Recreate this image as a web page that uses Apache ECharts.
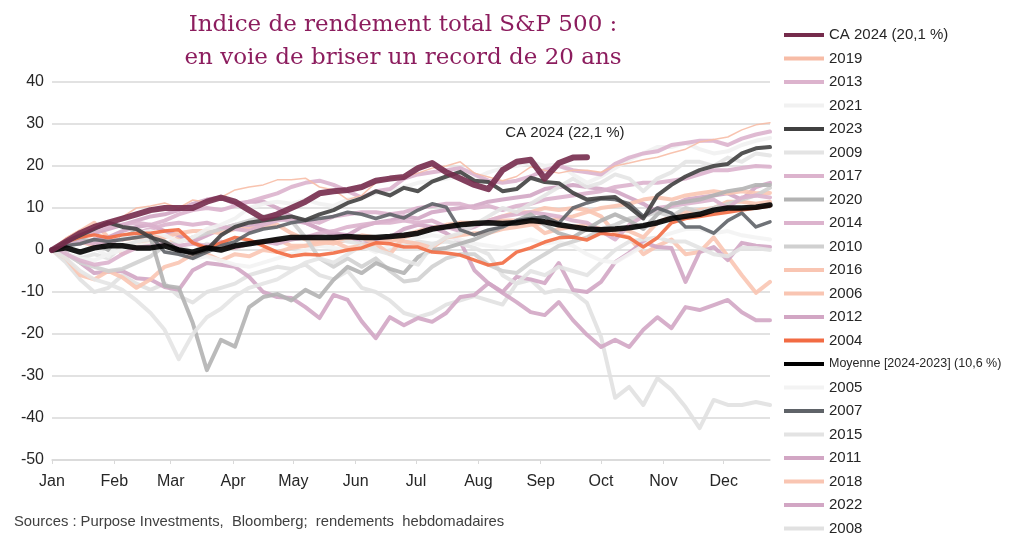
<!DOCTYPE html>
<html><head><meta charset="utf-8">
<script src="https://cdn.jsdelivr.net/npm/echarts@6/dist/echarts.min.js"></script>
<style>html,body{margin:0;padding:0;background:#fff}#c{width:1024px;height:542px}</style>
</head><body><div id="c"></div>
<script>
// ---- tick labels ----
const monthLabels = ['Jan','Feb','Mar','Apr','May','Jun','Jul','Aug','Sep','Oct','Nov','Dec'];
const monthWeeks = [0, 4.43, 8.43, 12.86, 17.14, 21.57, 25.86, 30.29, 34.71, 39, 43.43, 47.71];
const yTicks = [-50, -40, -30, -20, -10, 0, 10, 20, 30, 40];

// ---- weekly cumulative total returns (%) ----
const ca2024 = [0,2,4,5.5,6.5,7.5,8.5,9.5,10,10,10,11.5,12.5,11.5,9.5,7.5,8.5,10,11.5,13.5,14,14.3,15,16.5,17,17.4,19.5,20.7,18.5,17,15.5,14.5,19,21,21.5,17,20.7,22,22.1];
const y2019 = [0,2.9,4.8,6,6.7,7.9,10,10.5,11.2,10,11.9,11.4,12.5,14.3,15,15.5,16.7,16.7,17.1,15,14.3,12,13,16,17,17.5,18.3,19.5,20,21,18.3,17.4,16.5,17.5,19.8,19,18.3,19,19,18.5,20,20.7,21.5,22.1,23.1,24,25.7,26.3,26.9,28.6,29.8,30.3];
const y2013 = [0,2,3.5,4.5,5.5,6,6.5,6,7,8.5,9.5,10,9.5,10.5,11.5,12.5,13.5,15,16,16.5,15.5,14,12.5,14,14.5,17,18,18.5,19,19.5,18,16.5,16,16.5,17.5,19,20,19,18.5,18,20.5,22,23,23.5,25,25.5,26,26,25,26.5,27.5,28.2];
const y2021 = [0,1,-1,0.5,-1.5,3,4,4.5,3.5,2,3,5,6,7.5,10,11,11.5,11,12,11,10.5,12,12.5,13.5,14,15,16,16.5,17,17.5,17,18.5,19.5,20,21,20,20.5,18,16,17.5,19.5,21.5,23,24.5,24.5,25.5,24,23,23.5,25,26,26.7];
const y2023 = [0,2,3.5,5,6.5,5.5,5,3,2,0,-1,0,3.5,5.5,6.5,7,7.5,8,7.1,8.5,9.5,11.2,12.3,14,13,14.8,14,16.3,17.5,18.6,16.5,16.2,14,14.5,17.2,16.2,15.9,13.6,12,12.4,12.6,10.2,7.5,13,15.5,17.5,19,20,20.5,23,24.2,24.5];
const y2009 = [0,-2,-5,-7,-8,-9.5,-12,-15,-19,-26,-20,-16,-14,-11,-9,-8,-7,-5,-3,-2,-3,-1,1,0,-1,-2.5,-3.5,1,3,4,6,8,10,9,11,13,15,17,15,16,18,17,14,17,18.5,21,21,20,22,21,23,22.5];
const y2017 = [0,1,2,1.5,2,2.5,4,5,6,6.5,6,6.5,5.5,5,4.5,6,7,7.5,7,6.5,8,8.5,9,9,8.5,9,10,10.5,11,11,10,10.5,9.5,10.5,11,12,12.5,13,13.5,14,15,15.5,16,16,16.5,17,18,19,19,19.5,20,19.8];
const y2020 = [0,1.5,2.5,2,0,3,4.5,3,-8.5,-9,-17.4,-28.6,-21.4,-23,-13.6,-11.2,-10.5,-12,-9.5,-11.2,-7.1,-4,-5.5,-3.1,-4.5,-5.5,-1.7,0,0.5,1.5,2.5,4,5.5,7,8.5,6,4,3,5,7,8.5,7,5,8.5,11,11.5,12,13,14,14.5,15.5,15.5];
const y2014 = [0,-1,-2.5,-3.5,-3,-1,0.5,1,1.5,1,1.5,1,2,0.5,1.5,2,1.5,2.5,3,4,4.5,5.5,6,6.5,6.5,7,6.5,7,5.5,4.5,5.5,7,8,8.5,9,8.5,8,7,6.5,4.5,2.5,6,8,10,10.5,11,11.5,12,10,12.5,13,12.5];
const y2010 = [0,-1,-3,-4,-5,-4.5,-3,-1.5,1,2,3,4,5,6,7,8,8.5,7,3,-2,-4,-2,-4,-2,-5,-7.5,-7,-4,-2,-1,-1,-3.5,-5,-5.5,-3,-1,1,2,3,5,6,7.5,8,9,8,10,9,10,11,12,13,14.8];
const y2016 = [0,-2,-6,-7,-5,-6.5,-9,-7,-4,-3,-1,0,1,0.5,1.5,2,2.5,1,1,1.5,2,3,3,1.5,-1,3,4,5,6,6.5,6.5,7,7,7,6.5,4,5,5.5,6,5,5,4.5,3,6.5,8,9,9.5,10,11.5,11.5,11,11.5];
const y2006 = [0,1.5,2,1,2.5,2.5,3,3.5,3,4,4.5,4.5,4,5,5,5.5,6,4,2.5,2,2,0.5,1,1.5,2.5,2,1.5,0.5,3,3.5,4,4,5,5.5,6,6.5,7.5,8,9,10,10.5,11,12,12.5,12,13,13.5,14,13.5,14,13.5,13.6];
const y2012 = [0,2,3,4,5,6,7,8,8.5,9.5,11,12,12.5,11,11.5,11.5,10,8,6.5,5,4,3.5,5.5,6.5,7,8,7.5,9,9.5,10,10.5,11.5,12,12.5,13,14.5,15,15.5,15,14.5,14,12.5,11,9,10.5,12,12.5,13,13.5,12,15,16];
const y2004 = [0,2,3,3.6,2.9,3.6,4,4,4.5,4.8,1.7,0.5,1.7,3,2.4,1,-0.5,-1.5,-1,-1.2,-0.7,0,0.5,1.7,1.5,0.7,0.7,-0.5,-0.7,-1.2,-2.4,-3.6,-3.1,-0.5,0.5,1.9,2.9,3.1,2.4,4,3.6,2.9,0.7,2.9,6.5,7.5,8,8.5,9,9.5,10,10.5];
const moyenne = [0,0.5,-0.5,0.5,1,1,0.5,0.5,1,0,-0.5,0.5,0,1,1.5,2,2.5,3,3,3,3,3.2,3,3,3.2,3.5,4,5,5.5,6,6.3,6.5,6.3,6.5,7,6.7,6,5.5,5,4.8,5,5.3,5.8,6.5,7.5,8,8.5,9.5,10,10,10.2,10.7];
const y2005 = [0,-1,-2,-2.5,-1,0,1,1.5,0.5,-1,-2,-1.5,-2.5,-3.5,-4,-3,-2,-1,0,1,0.5,0,1,-0.5,1,2,3,3.5,3,2.5,1.5,1,0.5,1.5,2.5,1.5,2,1,-1,-2.5,-3,-1,1,3,4,5,5,4,4.5,3.5,3,2.5];
const y2007 = [0,1,1.5,2.5,2,2.5,3,3.5,-0.5,-1,-2,-0.5,1,2,4,5,5.5,6.5,7,7.5,8,9,8.5,7.5,8.5,7.6,9.5,11,10.2,4.8,3.6,4.8,5.5,7,7.5,7.9,6.4,10,11.2,12.2,12,11,8,10,8.8,5.5,5.5,4,7,8.8,5.5,6.7];
const y2015 = [0,-1,-2,-1,-2,1,2,2.5,2,1,-0.5,1.5,0,1,1.5,2,1.5,2.5,3,2,3,2,1.5,0.5,0,1,2,1.5,2,1.5,0.5,-1,-6,-8,-5,-6,-4,-5,-6,-3,0,2,2.5,3,2,2,0.5,-1,-1.5,0.5,0.5,0];
const y2011 = [0,1.5,1.5,2.5,3,4.5,5.5,6,4.5,3.5,2,3.5,5,6,5.5,6.5,7.5,7,6.5,5,3.5,3.5,1.5,2,3,5,6,5.5,4,2,-4.8,-7.9,-10,-6.4,-7,-7.9,-3.1,-9.5,-10,-7.6,-2.9,-0.7,1.9,0.7,0.5,-7.6,-0.5,0.7,-2.4,1.7,1,0.7];
const y2018 = [0,2.5,4.5,6.5,3,-1,1,2,1,3,2.5,-1,-2.5,-1,-1.5,0,-0.5,0.5,1,2,1.5,2.5,3.5,3,2,3.5,4.5,5.5,5.5,6.5,6,7,8,9,9,10,9.5,10,9.5,8,4,3,-1,1,2.5,-1,-0.5,3,-1.5,-6,-10.2,-7.6];
const y2022 = [0,-0.7,-3,-5.5,-5.2,-5,-6.7,-7,-8.8,-9.5,-4.8,-3.1,-3.5,-4,-6.4,-10,-11.2,-11.4,-13.6,-16.2,-10.7,-11.9,-17,-21,-16,-17.9,-16.2,-17.1,-15,-11.2,-10.7,-7.9,-10.2,-12.4,-14.8,-15.5,-12.4,-16.7,-20.2,-23.1,-21.4,-23.1,-19,-16,-18.6,-13.6,-14.3,-13.1,-11.9,-14.8,-16.7,-16.7];
const y2008 = [0,-3,-7,-10,-9,-6,-8,-9.5,-8,-11,-12.5,-10,-9,-8,-6,-5,-4,-4.5,-3.5,-6,-7,-5,-9,-10,-12,-15,-16,-15,-13,-12,-11,-12,-13,-8,-7.1,-10.2,-9.5,-10,-12.6,-20.7,-35.2,-32.6,-36.9,-30.5,-33.3,-37.4,-42.4,-35.7,-36.9,-36.9,-36.2,-36.9];

const caName = 'CA 2024 (20,1 %)';
const avgName = 'Moyenne [2024-2023] (10,6 %)';
const caLabel = 'CA 2024 (22,1 %)';
const legendOrder = [caName,'2019','2013','2021','2023','2009','2017','2020','2014','2010','2016','2006','2012','2004',avgName,'2005','2007','2015','2011','2018','2022','2008'];

// drawing order (bottom to top) with styles
const PINK = '#dcb3cd', MAUVE = '#d2a6c4', PEACH = '#f9c5b2';
const seriesDefs = [
  {name:'2008', data:y2008, color:'#e1e1e1', w:4},
  {name:'2022', data:y2022, color:MAUVE, w:4},
  {name:'2018', data:y2018, color:PEACH, w:4},
  {name:'2011', data:y2011, color:MAUVE, w:4},
  {name:'2015', data:y2015, color:'#e3e3e3', w:4},
  {name:'2005', data:y2005, color:'#f3f3f3', w:4},
  {name:'2012', data:y2012, color:MAUVE, w:4},
  {name:'2006', data:y2006, color:PEACH, w:4},
  {name:'2016', data:y2016, color:PEACH, w:4},
  {name:'2010', data:y2010, color:'#d0d0d0', w:4},
  {name:'2014', data:y2014, color:PINK, w:4},
  {name:'2020', data:y2020, color:'#b3b3b3', w:4},
  {name:'2017', data:y2017, color:PINK, w:4},
  {name:'2009', data:y2009, color:'#e4e4e4', w:4},
  {name:'2021', data:y2021, color:'#f1f1f1', w:4},
  {name:'2013', data:y2013, color:PINK, w:4},
  {name:'2019', data:y2019, color:'#f7bca6', w:1.5},
  {name:'2004', data:y2004, color:'#f26b43', w:3.5},
  {name:'2007', data:y2007, color:'#5f6368', w:3.5},
  {name:'2023', data:y2023, color:'#404040', w:4},
  {name:avgName, data:moyenne, color:'#000000', w:5.5},
  {name:caName, data:ca2024, color:'#752b4c', w:6}
];

const series = seriesDefs.map(d => {
  const pts = d.data.map((v, i) => [i, v]);
  const s = {
    name: d.name, type: 'line', data: pts, symbol: 'none', smooth: false,
    xAxisIndex: 0, yAxisIndex: 0,
    lineStyle: {color: d.color, width: d.w, opacity: 0.9, join: 'round', cap: 'round'},
    itemStyle: {color: d.color},
    emphasis: {disabled: true}, silent: true, animation: false
  };
  if (d.name === caName) {
    s.markPoint = {
      silent: true, animation: false,
      symbol: 'circle', symbolSize: 0,
      data: [{coord: pts[pts.length - 1]}],
      label: {show: true, position: 'inside', offset: [-22, -24], formatter: caLabel,
        fontSize: 15, color: '#262626', fontFamily: 'Liberation Sans, Arial, sans-serif'}
    };
  }
  return s;
});

const chart = echarts.init(document.getElementById('c'), null, {renderer: 'canvas'});
chart.setOption({
  animation: false,
  backgroundColor: '#ffffff',
  title: {
    text: 'Indice de rendement total S&P 500 :\nen voie de briser un record de 20 ans',
    left: 398, top: 4, textAlign: 'center',
    textStyle: {fontFamily: 'DejaVu Serif, serif', fontSize: 23, fontWeight: 'normal', color: '#8c1d5e', lineHeight: 33}
  },
  graphic: [{
    type: 'text', left: 14, top: 514,
    style: {text: 'Sources : Purpose Investments,  Bloomberg;  rendements  hebdomadaires',
      fontSize: 14.8, fill: '#404040', fontFamily: 'Liberation Sans, Arial, sans-serif'}
  }],
  legend: {
    orient: 'vertical', left: 784, top: 27, padding: 0,
    itemWidth: 40, itemHeight: 4, itemGap: 7.5,
    icon: 'rect',
    data: legendOrder,
    selectedMode: false,
    textStyle: {fontSize: 15, color: '#262626', lineHeight: 16,
      fontFamily: 'Liberation Sans, Arial, sans-serif',
      rich: {s: {fontSize: 12.5, color: '#262626', fontFamily: 'Liberation Sans, Arial, sans-serif'}}},
    formatter: n => n === avgName ? '{s|' + n + '}' : n
  },
  grid: {left: 52, right: 254, top: 82, bottom: 82, containLabel: false},
  xAxis: [{
    type: 'value', min: 0, max: 51,
    axisLine: {show: false}, axisTick: {show: false}, splitLine: {show: false},
    axisLabel: {
      customValues: monthWeeks, fontSize: 16, color: '#262626', margin: 14,
      fontFamily: 'Liberation Sans, Arial, sans-serif',
      formatter: v => {
        let best = 0;
        monthWeeks.forEach((m, i) => { if (Math.abs(m - v) < Math.abs(monthWeeks[best] - v)) best = i; });
        return monthLabels[best];
      }
    }
  }, {
    type: 'value', min: 0, max: 51, position: 'bottom',
    axisLine: {show: true, onZero: true, lineStyle: {color: '#d9d9d9', width: 1.5}},
    axisTick: {show: true, customValues: monthWeeks, length: 4, lineStyle: {color: '#d9d9d9'}},
    axisLabel: {show: false}, splitLine: {show: false}
  }],
  yAxis: {
    type: 'value', min: yTicks[0], max: yTicks[yTicks.length - 1], interval: 10,
    axisLine: {show: false}, axisTick: {show: false},
    axisLabel: {fontSize: 16, color: '#262626', margin: 8, fontFamily: 'Liberation Sans, Arial, sans-serif'},
    splitLine: {lineStyle: {color: '#d9d9d9', width: 1.5}}
  },
  series: series
});
</script>
</body></html>
